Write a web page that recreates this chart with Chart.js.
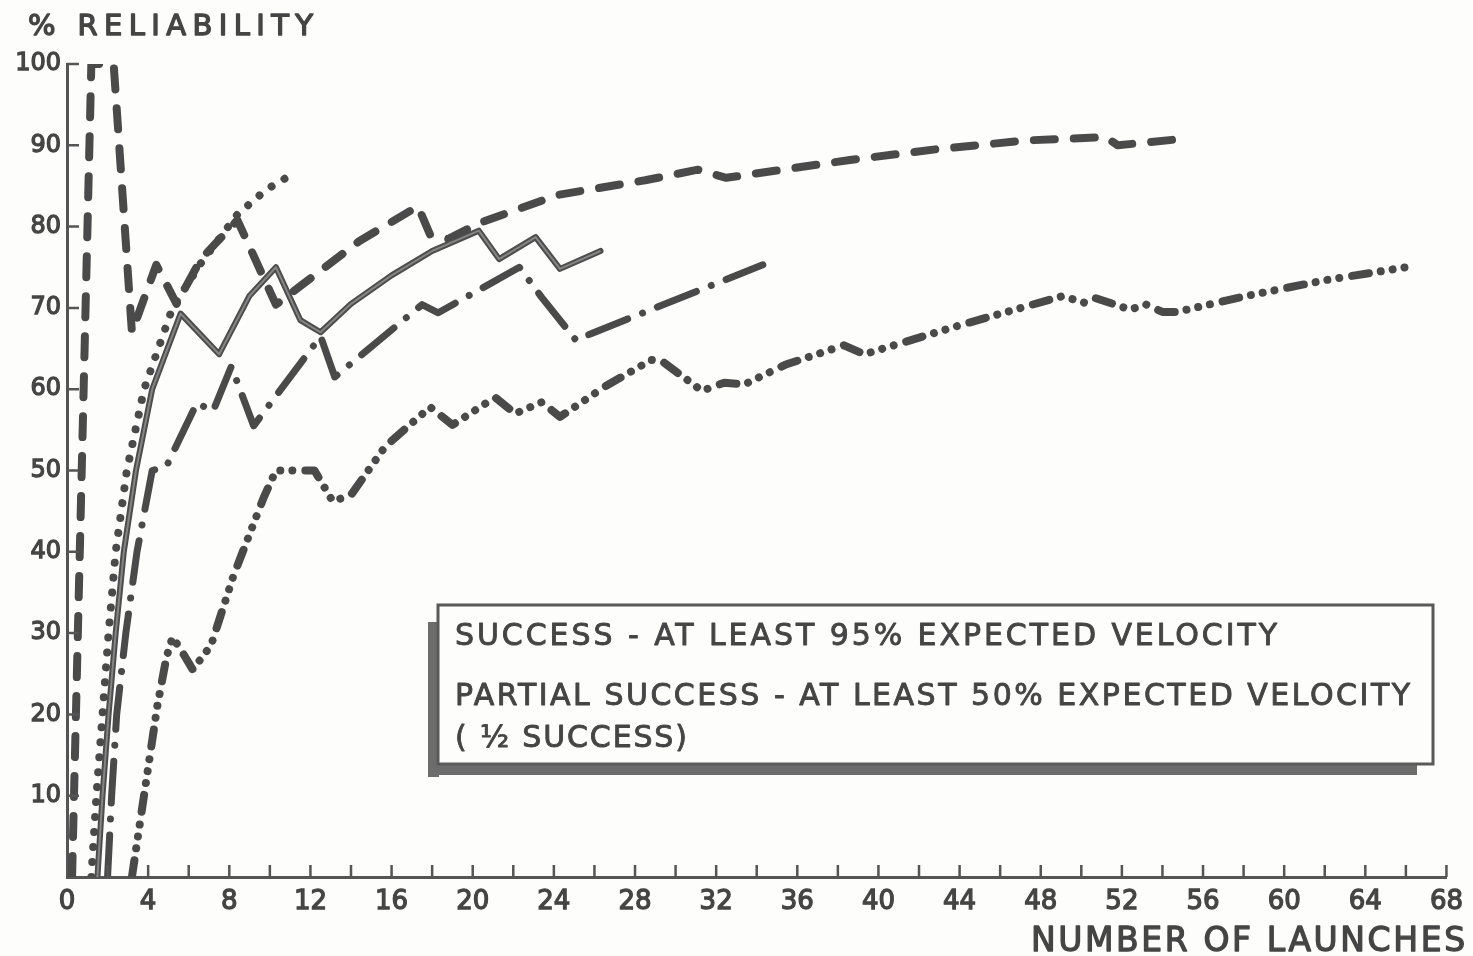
<!DOCTYPE html>
<html>
<head>
<meta charset="utf-8">
<title>% Reliability vs Number of Launches</title>
<script src="https://cdn.jsdelivr.net/npm/chart.js@4.4.1/dist/chart.umd.min.js"></script>
<style>
  html, body { margin: 0; padding: 0; background: #fdfdfc; }
  canvas { display: block; }
</style>
</head>
<body>
<canvas id="chart" width="1473" height="956"></canvas>
<script>
// ---- axis ticks and titles ----
const xTickValues = [0, 4, 8, 12, 16, 20, 24, 28, 32, 36, 40, 44, 48, 52, 56, 60, 64, 68];
const xMinorTicks = [2, 4, 6, 8, 10, 12, 14, 16, 18, 20, 22, 24, 26, 28, 30, 32, 34, 36, 38, 40, 42, 44, 46, 48, 50, 52, 54, 56, 58, 60, 62, 64, 66, 68];
const yTickValues = [10, 20, 30, 40, 50, 60, 70, 80, 90, 100];
const yAxisTitle = '% RELIABILITY';
const xAxisTitle = 'NUMBER OF LAUNCHES';
const legendLines = [
  'SUCCESS - AT LEAST 95% EXPECTED VELOCITY',
  'PARTIAL SUCCESS - AT LEAST 50% EXPECTED VELOCITY',
  '( \u00BD SUCCESS)'
];

// ---- series: heavy dashed ----
const dashedLaunches = [0.25, 1.2, 2.3, 3.2, 4.4, 5.4, 6.6, 8.4, 10.3, 14.4, 17.3, 17.9, 18.8, 20.4, 24.2, 28.5, 31.1, 32.5, 38.6, 42.8, 47.3, 51.2, 51.8, 55];
const dashedReliability = [0, 100, 100, 67, 75.3, 70.5, 76, 80.8, 70.4, 78.2, 82.5, 79, 78.5, 80.5, 83.9, 85.7, 87, 86, 88.2, 89.5, 90.6, 91, 90, 90.8];

// ---- series: dotted ----
const dottedLaunches = [1.2, 1.45, 1.75, 2.05, 2.4, 2.95, 3.8, 5.2, 6.6, 8.4, 9.8, 11];
const dottedReliability = [0, 10, 20, 30, 40, 50, 60, 70, 75.5, 81.5, 84.5, 86.3];

// ---- series: solid ----
const solidLaunches = [1.5, 1.75, 2.05, 2.4, 2.8, 3.4, 4.2, 5.6, 7.5, 9.0, 10.3, 11.5, 12.5, 14, 16, 18, 20.3, 21.3, 23.1, 24.3, 26.3];
const solidReliability = [0, 10, 20, 30, 40, 50, 60, 69.3, 64.3, 71.5, 75, 68.5, 67, 70.5, 74, 77, 79.5, 76, 78.7, 74.8, 77];

// ---- series: dash-dot ----
const dashDotLaunches = [2.0, 2.2, 2.45, 2.9, 3.45, 4.2, 4.9, 6.4, 7.2, 8.1, 9.2, 12.5, 13.2, 17.5, 18.3, 22.3, 23.4, 25.1, 25.8, 34.3];
const dashDotReliability = [0, 10, 20, 30, 40, 50, 50.5, 58.3, 57.3, 62.8, 55.5, 66.5, 61.5, 70.4, 69.4, 75, 71.3, 66, 66.8, 75.3];

// ---- series: dash-dot-dot ----
const dashDotDotLaunches = [3.2, 4.45, 4.9, 5.2, 5.6, 6.2, 7.1, 8.2, 9.7, 10.3, 12.2, 13.1, 14, 15.7, 17.9, 19, 21.1, 22.1, 23.4, 24.3, 26.5, 28.8, 29.3, 31.3, 32.4, 33.4, 35.4, 38.3, 39.3, 44.2, 49, 49.7, 50.2, 50.7, 52.4, 53.2, 54, 54.7, 58, 62, 66];
const dashDotDotReliability = [0, 21, 27, 29.5, 28, 25.5, 28.5, 37, 46.7, 50, 50, 46.2, 47, 53, 57.8, 55.6, 59, 57, 58.4, 56.6, 60.3, 63.6, 63.5, 59.8, 60.8, 60.6, 63, 65.4, 64.3, 68, 71.4, 71, 70.6, 71.2, 69.8, 70.4, 69.5, 69.5, 71.4, 73.4, 75];

const INK = '#4a4a4a';
const TEXT = '#454545';
const FONT = '"DejaVu Sans", "Noto Sans", sans-serif';

function toPoints(xs, ys) {
  return xs.map((x, i) => ({ x: x, y: ys[i] }));
}

// lettering-style text: stretched to a given width, with a slightly heavier stroke
function spacedText(ctx, text, x, y, size, width, stroke) {
  ctx.save();
  ctx.font = size + 'px ' + FONT;
  ctx.letterSpacing = '0px';
  const natural = ctx.measureText(text).width;
  const gaps = Math.max(text.length - 1, 1);
  const ls = Math.max((width - natural) / gaps, 0);
  ctx.letterSpacing = ls.toFixed(2) + 'px';
  ctx.fillStyle = TEXT;
  ctx.strokeStyle = TEXT;
  ctx.lineWidth = stroke;
  ctx.lineJoin = 'round';
  ctx.textAlign = 'left';
  ctx.textBaseline = 'alphabetic';
  ctx.fillText(text, x, y);
  ctx.strokeText(text, x, y);
  ctx.restore();
}

// short tick marks drawn inward from both axes
const inwardTicks = {
  id: 'inwardTicks',
  afterDatasetsDraw(chart) {
    const { ctx, chartArea, scales } = chart;
    ctx.save();
    ctx.strokeStyle = '#555';
    ctx.lineWidth = 2.5;
    ctx.lineCap = 'butt';
    ctx.beginPath();
    xMinorTicks.forEach(v => {
      const px = scales.x.getPixelForValue(v);
      ctx.moveTo(px, chartArea.bottom);
      ctx.lineTo(px, chartArea.bottom - 12);
    });
    yTickValues.forEach(v => {
      const py = scales.y.getPixelForValue(v);
      ctx.moveTo(chartArea.left, py);
      ctx.lineTo(chartArea.left + 12, py);
    });
    ctx.stroke();
    ctx.restore();
  }
};

// hollow look of the solid curve: a lighter core along the same path
const solidCore = {
  id: 'solidCore',
  afterDatasetDraw(chart, args) {
    if (chart.data.datasets[args.index].id !== 'solid') return;
    const pts = args.meta.data;
    const ctx = chart.ctx;
    ctx.save();
    ctx.beginPath();
    pts.forEach((p, i) => (i === 0 ? ctx.moveTo(p.x, p.y) : ctx.lineTo(p.x, p.y)));
    ctx.strokeStyle = '#858585';
    ctx.lineWidth = 2;
    ctx.lineJoin = 'round';
    ctx.stroke();
    ctx.restore();
  }
};

// titles and boxed legend note
const annotations = {
  id: 'annotations',
  afterDraw(chart) {
    const ctx = chart.ctx;
    spacedText(ctx, yAxisTitle, 28, 35, 29, 285, 1.4);
    spacedText(ctx, xAxisTitle, 1031, 951, 33, 434, 1.3);

    ctx.save();
    // shadow bars
    ctx.fillStyle = '#6c6c6c';
    ctx.fillRect(428, 622, 11, 155);
    ctx.fillRect(428, 764, 989, 11);
    // box
    ctx.fillStyle = '#fdfdfc';
    ctx.fillRect(438, 605, 995, 159);
    ctx.strokeStyle = '#5a5a5a';
    ctx.lineWidth = 3;
    ctx.strokeRect(438, 605, 995, 159);
    ctx.restore();

    spacedText(ctx, legendLines[0], 455, 645, 30, 822, 0.9);
    spacedText(ctx, legendLines[1], 455, 705, 30, 955, 0.9);
    spacedText(ctx, legendLines[2], 455, 747, 30, 232, 0.9);
  }
};

new Chart(document.getElementById('chart'), {
  type: 'line',
  data: {
    datasets: [
      {
        id: 'dashDotDot',
        data: toPoints(dashDotDotLaunches, dashDotDotReliability),
        borderColor: INK, borderWidth: 8,
        borderDash: [17, 12, 0.01, 12, 0.01, 12, 0.01, 13],
        borderCapStyle: 'round', borderJoinStyle: 'round'
      },
      {
        id: 'dashDot',
        data: toPoints(dashDotLaunches, dashDotReliability),
        borderColor: INK, borderWidth: 7,
        borderDash: [42, 16, 0.01, 16],
        borderCapStyle: 'round', borderJoinStyle: 'round'
      },
      {
        id: 'solid',
        data: toPoints(solidLaunches, solidReliability),
        borderColor: '#4d4d4d', borderWidth: 6,
        borderCapStyle: 'round', borderJoinStyle: 'round'
      },
      {
        id: 'dotted',
        data: toPoints(dottedLaunches, dottedReliability),
        borderColor: INK, borderWidth: 8,
        borderDash: [0.01, 15],
        borderCapStyle: 'round', borderJoinStyle: 'round'
      },
      {
        id: 'dashed',
        data: toPoints(dashedLaunches, dashedReliability),
        borderColor: INK, borderWidth: 8,
        borderDash: [21, 19],
        borderCapStyle: 'round', borderJoinStyle: 'round'
      }
    ]
  },
  options: {
    responsive: false,
    animation: false,
    events: [],
    layout: { padding: { left: 0, top: 64, right: 22, bottom: 0 } },
    elements: { point: { radius: 0 }, line: { tension: 0 } },
    plugins: { legend: { display: false }, tooltip: { enabled: false }, title: { display: false } },
    scales: {
      x: {
        type: 'linear', min: 0, max: 68,
        afterBuildTicks(scale) { scale.ticks = xTickValues.map(v => ({ value: v })); },
        afterFit(scale) { scale.height = 79; },
        grid: { display: false, drawTicks: false },
        border: { display: true, color: '#555', width: 3 },
        ticks: {
          autoSkip: false, maxRotation: 0, padding: 10,
          color: TEXT, font: { family: FONT, size: 26 },
          textStrokeColor: TEXT, textStrokeWidth: 1.3,
          callback: v => String(v)
        }
      },
      y: {
        type: 'linear', min: 0, max: 100,
        afterBuildTicks(scale) { scale.ticks = yTickValues.map(v => ({ value: v })); },
        afterFit(scale) { scale.width = 67; },
        grid: { display: false, drawTicks: false },
        border: { display: true, color: '#555', width: 3 },
        ticks: {
          padding: 6,
          color: TEXT, font: { family: FONT, size: 24 },
          textStrokeColor: TEXT, textStrokeWidth: 1.3,
          callback: v => String(v)
        }
      }
    }
  },
  plugins: [inwardTicks, solidCore, annotations]
});
</script>
</body>
</html>
